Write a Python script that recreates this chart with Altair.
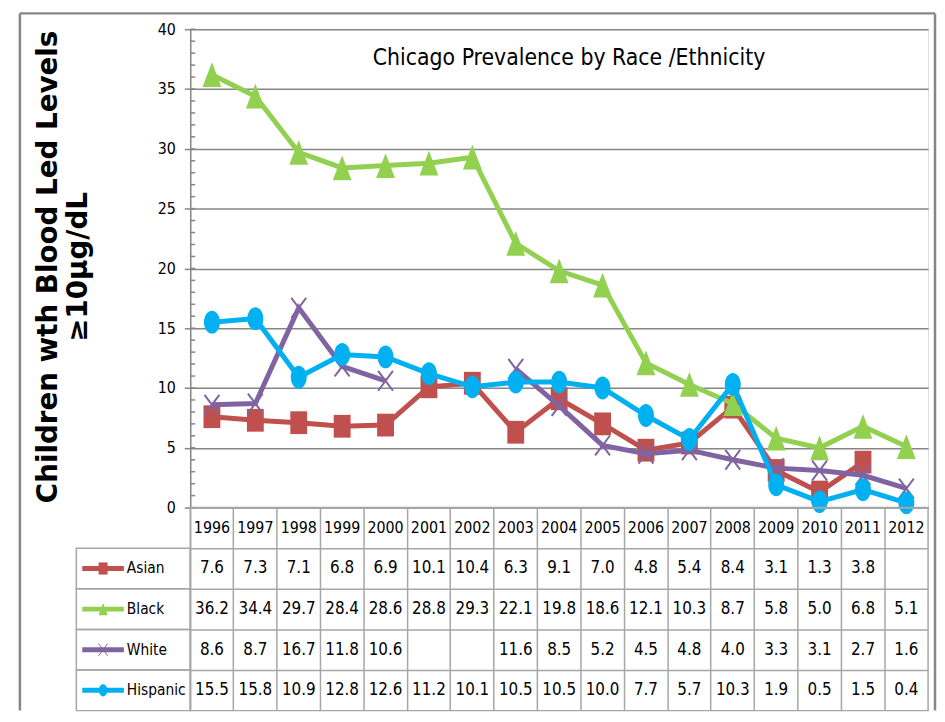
import altair as alt
import pandas as pd

# ---- data ----
years = ["1996", "1997", "1998", "1999", "2000", "2001", "2002", "2003", "2004",
         "2005", "2006", "2007", "2008", "2009", "2010", "2011", "2012"]
asian = [7.6, 7.3, 7.1, 6.8, 6.9, 10.1, 10.4, 6.3, 9.1, 7.0, 4.8, 5.4, 8.4, 3.1, 1.3, 3.8, None]
black = [36.2, 34.4, 29.7, 28.4, 28.6, 28.8, 29.3, 22.1, 19.8, 18.6, 12.1, 10.3, 8.7, 5.8, 5.0, 6.8, 5.1]
white = [8.6, 8.7, 16.7, 11.8, 10.6, None, None, 11.6, 8.5, 5.2, 4.5, 4.8, 4.0, 3.3, 3.1, 2.7, 1.6]
hispanic = [15.5, 15.8, 10.9, 12.8, 12.6, 11.2, 10.1, 10.5, 10.5, 10.0, 7.7, 5.7, 10.3, 1.9, 0.5, 1.5, 0.4]
series_names = ["Asian", "Black", "White", "Hispanic"]
series_values = [asian, black, white, hispanic]
y_ticks = [0, 5, 10, 15, 20, 25, 30, 35, 40]

title_text = "Chicago Prevalence by Race /Ethnicity"
y_title = ["Children wth  Blood Led Levels", "≥10µg/dL"]

# ---- styling ----
colors = ["#C0504D", "#92D050", "#8064A2", "#00B0F0"]
SQUARE = "M-0.74,-1L0.74,-1L0.74,1L-0.74,1Z"
TRI = "M0,-1L0.76,1L-0.76,1Z"
CROSS = "M-0.75,-1L0.75,1M-0.75,1L0.75,-1"
ELLIPSE = "M0,-1A0.7,1 0 1,1 0,1A0.7,1 0 1,1 0,-1Z"
shapes = [SQUARE, TRI, CROSS, ELLIPSE]
NARROW = "DejaVu Sans Condensed, Liberation Sans Narrow, sans-serif"
GRID = "#868686"
TLINE = "#A6A6A6"

W, H = 745, 483
TH = 205

rows = []
for name, vals in zip(series_names, series_values):
    for yr, v in zip(years, vals):
        rows.append({"series": name, "year": yr, "value": v})
df = pd.DataFrame(rows)

color_enc = alt.Color("series:N", scale=alt.Scale(domain=series_names, range=colors), legend=None)
shape_enc = alt.Shape("series:N", scale=alt.Scale(domain=series_names, range=shapes), legend=None)
x_top = alt.X("year:N", scale=alt.Scale(domain=years, type="point", padding=0.5), axis=None)
y_top = alt.Y(
    "value:Q",
    scale=alt.Scale(domain=[0, 40], nice=False),
    axis=alt.Axis(
        values=y_ticks, grid=True, gridColor=GRID, gridWidth=1.5,
        domainColor=GRID, domainWidth=1.5, tickColor=GRID, tickWidth=1.5, tickSize=6,
        labelFont=NARROW, labelFontSize=16, labelColor="#000000", labelPadding=9,
        title=y_title, titleFont="DejaVu Sans", titleFontWeight="bold", titleFontSize=28,
        titleColor="#000000", titleX=-143, titleY=H / 2 - 2, titleBaseline="middle",
        titleAlign="center", titleLineHeight=30, titleAngle=270,
    ),
)

top_layers = []
# minor ticks (inside the axis)
minor = pd.DataFrame({"value": list(range(0, 41))})
top_layers.append(
    alt.Chart(minor).mark_rule(color=GRID, strokeWidth=1.5).encode(
        y=y_top, x=alt.value(0), x2=alt.value(5)
    )
)
for name in series_names:
    sub = alt.Chart(df).transform_filter(alt.datum.series == name)
    top_layers.append(
        sub.mark_line(strokeWidth=5, invalid="break-paths-filter-domains").encode(
            x=x_top, y=y_top, color=color_enc
        )
    )
    if name == "White":
        pt = sub.mark_point(filled=False, strokeWidth=2, opacity=1, size=400)
    else:
        pt = sub.mark_point(filled=True, opacity=1, size=529 if name != "Black" else 625)
    top_layers.append(pt.encode(x=x_top, y=y_top, color=color_enc, shape=shape_enc))

# outer frame of the figure
one = pd.DataFrame({"a": [0]})
frame = [
    alt.Chart(one).mark_rule(color=GRID, strokeWidth=2.5).encode(
        x=alt.value(-172), y=alt.value(-16), y2=alt.value(H + TH)),
    alt.Chart(one).mark_rule(color=GRID, strokeWidth=2.5).encode(
        x=alt.value(752), y=alt.value(-16), y2=alt.value(H + TH)),
    alt.Chart(one).mark_rule(color=GRID, strokeWidth=2.5).encode(
        x=alt.value(-172), x2=alt.value(752), y=alt.value(-16)),
]

top = alt.layer(*top_layers, *frame).properties(
    width=W, height=H,
    title=alt.TitleParams(
        title_text, frame="group", anchor="middle", offset=-58, dx=10,
        font=NARROW, fontSize=23, fontWeight="normal", color="#000000",
    ),
)

# ---- data table ----
row_domain = ["yr"] + series_names
cells = df.dropna().copy()
cells["row"] = cells["series"]
cells["txt"] = cells["value"].map(lambda v: f"{v:.1f}")
hdr = pd.DataFrame({"year": years, "row": "yr", "txt": years})
keys = pd.DataFrame({"row": series_names, "series": series_names})

x_tab = alt.X(
    "year:N", scale=alt.Scale(domain=years, type="band", paddingInner=0, paddingOuter=0),
    axis=alt.Axis(orient="top", grid=True, bandPosition=0, gridColor=TLINE, gridWidth=1.5,
                  labels=False, ticks=False, domain=False, title=None),
)
y_tab = alt.Y(
    "row:N", scale=alt.Scale(domain=row_domain, type="band", paddingInner=0, paddingOuter=0),
    axis=alt.Axis(grid=True, bandPosition=0, gridColor=TLINE, gridWidth=1.5,
                  labels=False, ticks=False, domain=False, title=None),
)

cell_text = alt.Chart(cells).mark_text(font=NARROW, fontSize=17, color="#000000").encode(
    x=x_tab, y=y_tab, text="txt:N"
)
hdr_text = alt.Chart(hdr).mark_text(font=NARROW, fontSize=16, color="#000000").encode(
    x=x_tab, y=y_tab, text="txt:N"
)
label_boxes = alt.Chart(keys).mark_rect(fill=None, stroke=TLINE, strokeWidth=1.5).encode(
    y=y_tab, x=alt.value(-115), x2=alt.value(0)
)
key_lines = alt.Chart(keys).mark_rule(strokeWidth=5).encode(
    y=y_tab, x=alt.value(-109), x2=alt.value(-67), color=color_enc
)
key_pts_f = alt.Chart(keys).transform_filter(alt.datum.series != "White").mark_point(
    filled=True, opacity=1, size=150).encode(
    y=y_tab, x=alt.value(-88), color=color_enc, shape=shape_enc
)
key_pts_x = alt.Chart(keys).transform_filter(alt.datum.series == "White").mark_point(
    filled=False, opacity=1, size=150, strokeWidth=1).encode(
    y=y_tab, x=alt.value(-88), color=color_enc, shape=shape_enc
)
key_text = alt.Chart(keys).mark_text(font=NARROW, fontSize=15.5, color="#000000", align="left").encode(
    y=y_tab, x=alt.value(-64), text="series:N"
)

table = alt.layer(label_boxes, cell_text, hdr_text, key_lines, key_pts_f, key_pts_x, key_text).properties(
    width=W, height=TH,
    view=alt.ViewBackground(stroke=TLINE, strokeWidth=1.5),
)

chart = alt.vconcat(top, table, spacing=0, bounds="flush").properties(
    padding={"left": 10, "top": 0, "right": 0, "bottom": 0}
).configure_view(stroke=None).configure(background="#ffffff")

chart.save("out.html", embed_options={"renderer": "svg", "actions": False})
